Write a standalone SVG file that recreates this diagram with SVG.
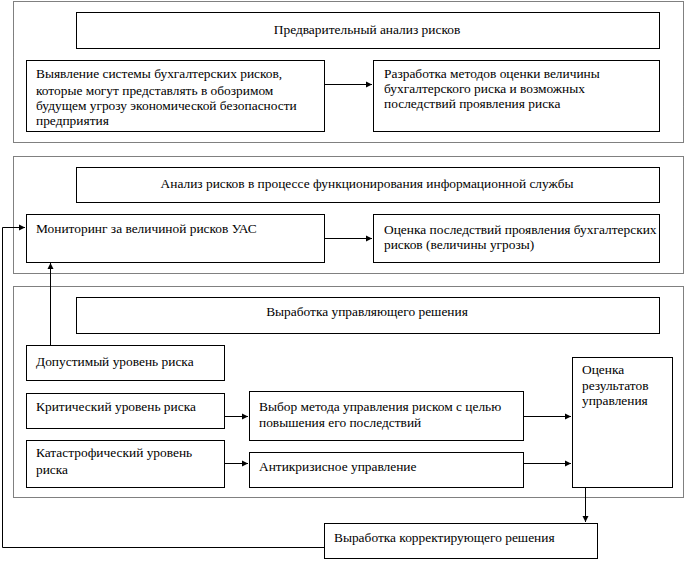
<svg xmlns="http://www.w3.org/2000/svg" width="686" height="562" viewBox="0 0 686 562">
<defs>
<style>
.frame{fill:none;stroke:#000;stroke-width:1;stroke-dasharray:1,1}
.box{fill:#fff;stroke:#000;stroke-width:1}
.t{font-family:'Liberation Serif','Times New Roman',serif;font-size:13.4px;fill:#000}
.c{fill:none;stroke:#000;stroke-width:1}
</style>
<marker id="ah" markerWidth="8" markerHeight="8" refX="7" refY="4" orient="auto" markerUnits="userSpaceOnUse">
<path d="M1,1 L7,4 L1,7 Z" fill="#000"/>
</marker>
</defs>
<rect width="686" height="562" fill="#fff"/>
<g id="frames">
<rect class="frame" x="13.5" y="1.5" width="670" height="141"/>
<rect class="frame" x="13.5" y="156.5" width="670" height="117"/>
<rect class="frame" x="13.5" y="286.5" width="670" height="211"/>
</g>
<g id="connectors">
<path class="c" d="M324.5,84.5 H372" marker-end="url(#ah)"/>
<path class="c" d="M324.5,238.5 H372" marker-end="url(#ah)"/>
<path class="c" d="M224.5,416.5 H248" marker-end="url(#ah)"/>
<path class="c" d="M224.5,463.5 H248" marker-end="url(#ah)"/>
<path class="c" d="M523.5,416.5 H571" marker-end="url(#ah)"/>
<path class="c" d="M523.5,463.5 H571" marker-end="url(#ah)"/>
<path class="c" d="M585.5,487.5 V522" marker-end="url(#ah)"/>
<path class="c" d="M50.5,345 V263" marker-end="url(#ah)"/>
<path class="c" d="M324.5,547.5 H2.5 V227.5 H25" marker-end="url(#ah)"/>
</g>
<g id="n1">
<rect class="box" x="76.5" y="12.5" width="583" height="36"/>
<text class="t" x="367" y="34" text-anchor="middle">Предварительный анализ рисков</text>
</g>
<g id="n2">
<rect class="box" x="26.5" y="60.5" width="298" height="71"/>
<text class="t" x="36" y="78">Выявление системы бухгалтерских рисков,</text>
<text class="t" x="36" y="95">которые могут представлять в обозримом</text>
<text class="t" x="36" y="110">будущем угрозу экономической безопасности</text>
<text class="t" x="36" y="125">предприятия</text>
</g>
<g id="n3">
<rect class="box" x="373.5" y="60.5" width="286" height="71"/>
<text class="t" x="384" y="78">Разработка методов оценки величины</text>
<text class="t" x="384" y="93">бухгалтерского риска и возможных</text>
<text class="t" x="384" y="108">последствий проявления риска</text>
</g>
<g id="n4">
<rect class="box" x="76.5" y="167.5" width="583" height="35"/>
<text class="t" x="367" y="188" text-anchor="middle">Анализ рисков в процессе функционирования информационной службы</text>
</g>
<g id="n5">
<rect class="box" x="26.5" y="214.5" width="298" height="48"/>
<text class="t" x="36" y="233">Мониторинг за величиной рисков УАС</text>
</g>
<g id="n6">
<rect class="box" x="373.5" y="214.5" width="286" height="48"/>
<text class="t" x="384" y="234">Оценка последствий проявления бухгалтерских</text>
<text class="t" x="384" y="249">рисков (величины угрозы)</text>
</g>
<g id="n7">
<rect class="box" x="76.5" y="297.5" width="583" height="36"/>
<text class="t" x="367" y="316" text-anchor="middle">Выработка управляющего решения</text>
</g>
<g id="n8">
<rect class="box" x="26.5" y="345.5" width="198" height="35"/>
<text class="t" x="36" y="366">Допустимый уровень риска</text>
</g>
<g id="n9">
<rect class="box" x="26.5" y="393.5" width="198" height="35"/>
<text class="t" x="36" y="411">Критический уровень риска</text>
</g>
<g id="n10">
<rect class="box" x="249.5" y="391.5" width="274" height="49"/>
<text class="t" x="259" y="411">Выбор метода управления риском с целью</text>
<text class="t" x="259" y="427">повышения его последствий</text>
</g>
<g id="n11">
<rect class="box" x="26.5" y="440.5" width="198" height="47"/>
<text class="t" x="36" y="457">Катастрофический уровень</text>
<text class="t" x="36" y="474">риска</text>
</g>
<g id="n12">
<rect class="box" x="249.5" y="452.5" width="274" height="35"/>
<text class="t" x="259" y="471">Антикризисное управление</text>
</g>
<g id="n13">
<rect class="box" x="572.5" y="357.5" width="100" height="130"/>
<text class="t" x="582" y="374">Оценка</text>
<text class="t" x="582" y="390">результатов</text>
<text class="t" x="582" y="405">управления</text>
</g>
<g id="n14">
<rect class="box" x="324.5" y="523.5" width="273" height="35"/>
<text class="t" x="334" y="542">Выработка корректирующего решения</text>
</g>
</svg>
